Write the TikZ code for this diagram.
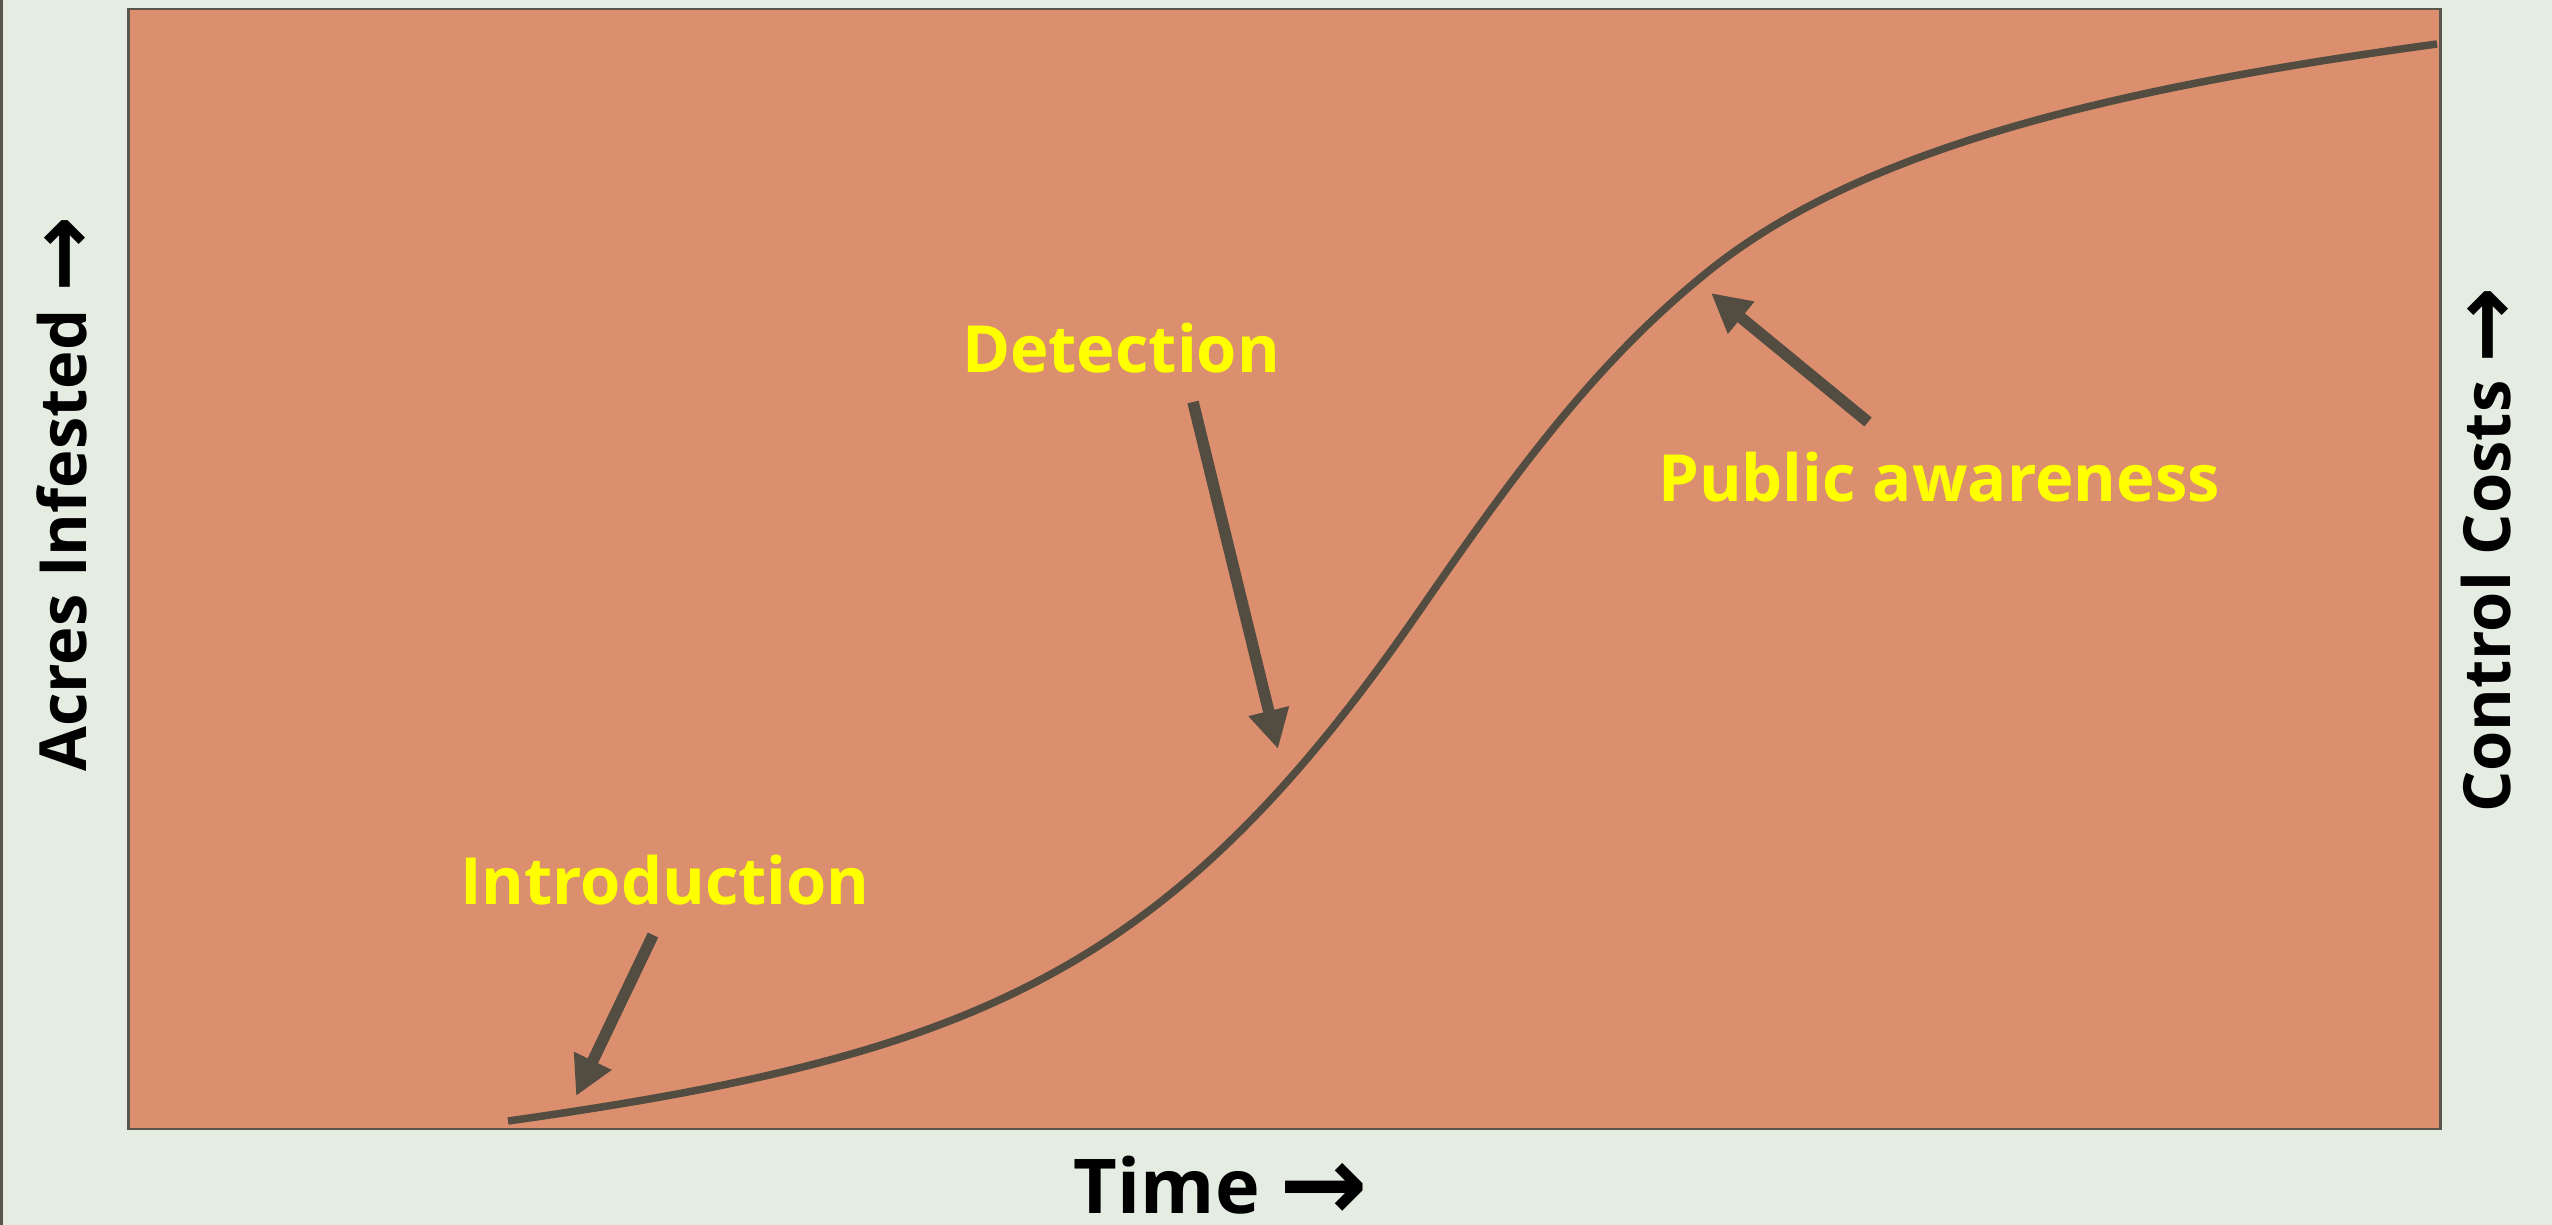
\documentclass[tikz,border=0pt]{standalone}
\usepackage{fontspec}
\setmainfont{Open Sans}
\newfontfamily\arrowfont{DejaVu Sans}
\usetikzlibrary{arrows.meta}
\definecolor{slidebg}{HTML}{E5EDE2}
\definecolor{plotfill}{HTML}{DB8F6E}
\definecolor{curvecol}{HTML}{534C41}
\definecolor{framecol}{HTML}{5A554B}
\definecolor{stageyellow}{HTML}{FFFF00}
\newcommand{\arrowglyph}{\raisebox{-0.1em}{\scalebox{1.4}{\arrowfont\bfseries\symbol{"2192}}}}

\begin{document}
\begin{tikzpicture}[x=0.01cm,y=-0.01cm,
    stage/.style={font=\bfseries\fontsize{18.5}{22}\selectfont,text=stageyellow,inner sep=0pt,anchor=base},
    axis/.style={font=\bfseries\fontsize{18.5}{22}\selectfont,text=black,inner sep=0pt,anchor=base},
    pointer/.style={draw=curvecol,line width=0.115cm,-{Triangle[length=0.39cm,width=0.39cm]}}
]
\fill[slidebg] (0,0) rectangle (2552,1225);
\useasboundingbox (0,0) rectangle (2552,1225);
\draw[framecol,line width=0.03cm] (1,0) -- (1,1225);

% plot area
\node[draw=framecol,fill=plotfill,line width=0.025cm,minimum width=23.11cm,minimum height=11.19cm,inner sep=0pt,anchor=north west] (plot) at (127,8) {};

% growth curve
\coordinate (start) at (508,1121);
\coordinate (bend) at (1420,610);
\coordinate (knee) at (1710,270);
\coordinate (finish) at (2437,44);
\draw[curvecol,line width=0.075cm] (start)
    .. controls (978,1055) and (1170,972) .. (bend)
    .. controls (1520,465) and (1600,358) .. (knee)
    .. controls (1870,142) and (2137,85) .. (finish);

% stage labels
\node[stage] (intro) at (665,904) {Introduction};
\node[stage] (detect) at (1121,373) {Detection};
\node[stage] (public) at (1939,502) {Public awareness};

\coordinate (introtail) at (653,935);
\coordinate (introtip) at (576,1096);
\coordinate (detecttail) at (1193,402);
\coordinate (detecttip) at (1278,749);
\coordinate (publictail) at (1868,422);
\coordinate (publictip) at (1711,293);
\draw[pointer] (introtail) -- (introtip);
\draw[pointer] (detecttail) -- (detecttip);
\draw[pointer] (publictail) -- (publictip);

% axis labels
\node[axis,font=\bfseries\fontsize{21.5}{26}\selectfont] (time) at (1221,1213) {Time \arrowglyph};
\node[axis,rotate=90] (acres) at (87,494) {Acres Infested \arrowglyph};
\node[axis,rotate=90] (costs) at (2510,550) {Control Costs \arrowglyph};
\end{tikzpicture}
\end{document}
